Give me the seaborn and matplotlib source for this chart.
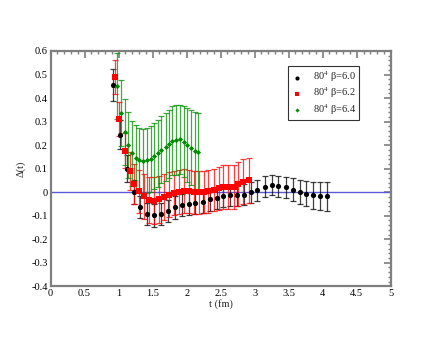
import seaborn as sns
import matplotlib
matplotlib.use("Agg")
import matplotlib.pyplot as plt
from matplotlib.ticker import MultipleLocator, FormatStrFormatter

# beta = 6.0
t_60 = [0.92, 1.02, 1.12, 1.22, 1.32, 1.42, 1.52, 1.63, 1.73, 1.83, 1.93, 2.03,
        2.13, 2.24, 2.34, 2.44, 2.54, 2.64, 2.74, 2.84, 2.94, 3.04, 3.15, 3.25,
        3.35, 3.46, 3.56, 3.66, 3.76, 3.86, 3.96, 4.06]
d_60 = [0.455, 0.245, 0.10, 0.0, -0.063, -0.093, -0.098, -0.093, -0.08, -0.065,
        -0.055, -0.05, -0.045, -0.04, -0.031, -0.025, -0.017, -0.014, -0.011,
        -0.01, -0.001, 0.008, 0.024, 0.03, 0.025, 0.02, 0.011, 0.001, -0.006,
        -0.014, -0.017, -0.017]
e_60 = [0.067, 0.06, 0.056, 0.05, 0.048, 0.048, 0.048, 0.048, 0.048, 0.048,
        0.048, 0.048, 0.047, 0.047, 0.047, 0.046, 0.046, 0.046, 0.046, 0.045,
        0.045, 0.045, 0.044, 0.044, 0.044, 0.046, 0.048, 0.05, 0.053, 0.056,
        0.059, 0.062]

# beta = 6.2
t_62 = [0.94, 1.01, 1.09, 1.16, 1.23, 1.30, 1.38, 1.45, 1.52, 1.59, 1.67, 1.74,
        1.81, 1.89, 1.96, 2.03, 2.11, 2.18, 2.25, 2.32, 2.40, 2.47, 2.54, 2.61,
        2.69, 2.76, 2.83, 2.91]
d_62 = [0.49, 0.311, 0.177, 0.089, 0.034, 0.003, -0.018, -0.032, -0.036, -0.03,
        -0.02, -0.01, -0.003, 0.001, 0.006, 0.004, 0.0, 0.0, 0.001, 0.003, 0.008,
        0.017, 0.022, 0.022, 0.022, 0.035, 0.045, 0.05]
e_62 = [0.072, 0.073, 0.075, 0.08, 0.085, 0.09, 0.095, 0.098, 0.1, 0.1, 0.098,
        0.096, 0.095, 0.094, 0.093, 0.092, 0.092, 0.091, 0.09, 0.09, 0.09, 0.091,
        0.092, 0.093, 0.094, 0.095, 0.096, 0.097]

# beta = 6.4
t_64 = [0.98, 1.03, 1.09, 1.14, 1.20, 1.25, 1.30, 1.36, 1.42, 1.47, 1.52, 1.58,
        1.63, 1.69, 1.74, 1.79, 1.85, 1.90, 1.96, 2.01, 2.06, 2.12, 2.17]
d_64 = [0.453, 0.335, 0.256, 0.2, 0.166, 0.146, 0.136, 0.131, 0.135, 0.142,
        0.152, 0.165, 0.18, 0.193, 0.205, 0.218, 0.222, 0.224, 0.215, 0.201,
        0.189, 0.177, 0.169]
e_64 = [0.14, 0.14, 0.14, 0.14, 0.138, 0.138, 0.138, 0.138, 0.138, 0.14, 0.14,
        0.142, 0.143, 0.145, 0.146, 0.147, 0.148, 0.148, 0.152, 0.156, 0.16,
        0.164, 0.168]

labels = [r"80$^4$ β=6.0", r"80$^4$ β=6.2", r"80$^4$ β=6.4"]

sns.set_theme(style="white")
plt.rcParams["font.family"] = ["Liberation Serif", "DejaVu Serif"]
plt.rcParams["mathtext.fontset"] = "stix"
plt.rcParams["axes.unicode_minus"] = False

fig = plt.figure(figsize=(4.4, 3.4), dpi=100)
ax = fig.add_axes([0.115, 0.158, 0.773, 0.692])

ax.axhline(0, color="#5a5ad8", lw=1, zorder=1)

series = [
    (t_60, d_60, e_60, "black", "o", 14),
    (t_62, d_62, e_62, "red", "s", 13),
    (t_64, d_64, e_64, "#008c00", "D", 7),
]
for (t, d, e, c, m, s), lab in zip(series, labels):
    ax.errorbar(t, d, yerr=e, fmt="none", ecolor=c, elinewidth=0.9,
                capsize=2.2, capthick=0.9, alpha=0.75, zorder=2)
    sns.scatterplot(x=t, y=d, ax=ax, color=c, marker=m, s=s,
                    edgecolor=c, linewidth=0, label=lab, zorder=3)

ax.set_xlim(0, 5)
ax.set_ylim(-0.4, 0.6)
ax.xaxis.set_major_locator(MultipleLocator(0.5))
ax.xaxis.set_minor_locator(MultipleLocator(0.1))
ax.yaxis.set_major_locator(MultipleLocator(0.1))
ax.yaxis.set_minor_locator(MultipleLocator(0.02))
ax.xaxis.set_major_formatter(FormatStrFormatter("%g"))
ax.yaxis.set_major_formatter(FormatStrFormatter("%g"))

for sp in ax.spines.values():
    sp.set_color("#7f7f7f")
    sp.set_linewidth(1.6)
ax.tick_params(which="both", direction="in", top=True, right=True,
               color="#7f7f7f", labelsize=7.5, pad=2, labelcolor="black")
ax.tick_params(which="major", length=5, width=1.2)
ax.tick_params(which="minor", length=2.5, width=1)

ax.set_xlabel("t (fm)", fontsize=7.5, labelpad=1)
ax.set_ylabel("Δ(t)", fontsize=7.5, labelpad=4)

leg = ax.legend(loc="upper left", bbox_to_anchor=(0.697, 0.935),
                fontsize=7.5, frameon=True, fancybox=False, markerscale=0.8,
                handletextpad=0.9, borderpad=0.3, labelspacing=0.12,
                handlelength=1.2, borderaxespad=0)
leg.get_frame().set_edgecolor("black")
leg.get_frame().set_linewidth(0.8)

plt.savefig("out.png", dpi=100)
